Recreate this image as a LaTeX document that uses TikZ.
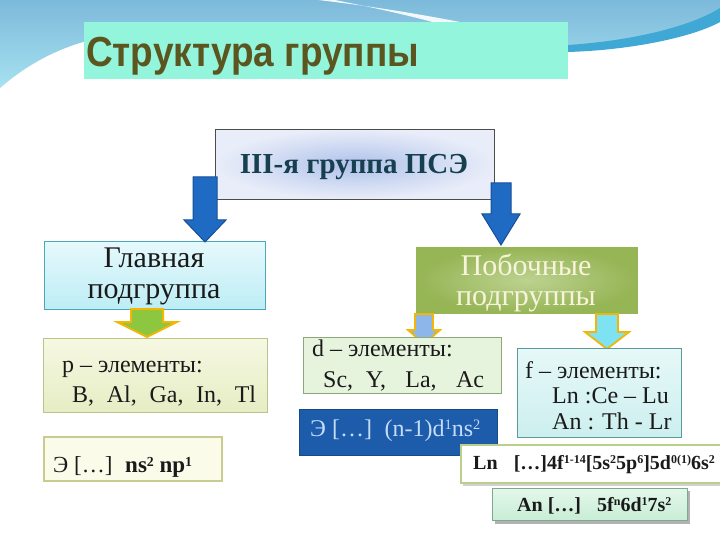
\documentclass[tikz,border=0pt]{standalone}
\usepackage{fontspec}
\setmainfont{Liberation Serif}
\newfontfamily\titlefont{Liberation Sans}
\definecolor{titlefill}{HTML}{93F5DB}
\definecolor{titletext}{HTML}{5B5520}
\definecolor{bgblueA}{HTML}{7DB9DA}
\definecolor{bgblueB}{HTML}{A6E2F0}
\definecolor{bgband}{HTML}{3FA8D4}
\definecolor{iiiin}{HTML}{AFC2EA}
\definecolor{iiiout}{HTML}{E9EDF9}
\definecolor{iiitext}{HTML}{163F4F}
\definecolor{arrblue}{HTML}{1F6BC4}
\definecolor{arrblueedge}{HTML}{174F96}
\definecolor{glavA}{HTML}{E6F9FC}
\definecolor{glavB}{HTML}{BDEDF5}
\definecolor{glavedge}{HTML}{4CA8B8}
\definecolor{pobin}{HTML}{BCD290}
\definecolor{pobout}{HTML}{96B555}
\definecolor{pobtext}{HTML}{F8F4DC}
\definecolor{pfillA}{HTML}{F6F8E2}
\definecolor{pfillB}{HTML}{E6EDC4}
\definecolor{pedge}{HTML}{B8C48A}
\definecolor{dfill}{HTML}{E6F4DE}
\definecolor{dedge}{HTML}{8AA878}
\definecolor{pEfill}{HTML}{FBFBEA}
\definecolor{pEedge}{HTML}{C8CC90}
\definecolor{dEfill}{HTML}{1D5CAA}
\definecolor{dEtext}{HTML}{C4DCF8}
\definecolor{ffillA}{HTML}{E6F8F8}
\definecolor{ffillB}{HTML}{CDEFEF}
\definecolor{fedge}{HTML}{5A9A9A}
\definecolor{lnedge}{HTML}{B8D08A}
\definecolor{anfillA}{HTML}{E4F7EA}
\definecolor{anfillB}{HTML}{C8EDD6}
\definecolor{anedge}{HTML}{7AAA90}
\definecolor{arrgreen}{HTML}{8DC63F}
\definecolor{arrorange}{HTML}{F2B705}
\definecolor{arrlblue}{HTML}{8DB6EA}
\definecolor{arrcyan}{HTML}{7DE3F2}
\definecolor{txt}{HTML}{1A1A1A}
\newcommand{\dnarrow}[7]{%
  \filldraw[#1] ({#2-#6},#3) -- ({#2+#6},#3) -- ({#2+#6},#4) -- ({#2+#7},#4) -- (#2,#5) -- ({#2-#7},#4) -- ({#2-#6},#4) -- cycle;}
\newcommand{\upidx}[1]{\raisebox{0.55ex}{\scalebox{0.6}{#1}}}
\tikzset{
  boxnode/.style={draw, inner sep=0pt, anchor=north west},
  bigtxt/.style={font=\fontsize{30}{31}\selectfont, inner sep=0pt, anchor=base},
  midtxt/.style={font=\fontsize{24}{25}\selectfont, inner sep=0pt, anchor=base west, text=txt},
  formtxt/.style={font=\fontsize{20}{23}\selectfont\bfseries, inner sep=0pt, anchor=base west, text=txt},
}
\begin{document}
\begin{tikzpicture}[x=1pt,y=-1pt]
\useasboundingbox (0,0) rectangle (720,540);
\fill[white] (0,0) rectangle (720,540);
% background swoosh
\shade[top color=bgblueA, bottom color=bgblueB] (0,0) -- (720,0) -- (720,12) .. controls (690,30) and (630,45) .. (568,48) -- (300,48) -- (90,40) .. controls (60,48) and (30,62) .. (0,88) -- cycle;
\fill[bgband] (720,8) .. controls (690,27) and (630,41) .. (568,45) -- (568,52) .. controls (635,50) and (695,36) .. (720,22) -- cycle;
\fill[white, opacity=0.9] (318,0) .. controls (370,6) and (420,14) .. (470,24) -- (440,24) .. controls (400,13) and (360,5) .. (335,0) -- cycle;
% title
\node[fill=titlefill, inner sep=0pt, minimum width=484pt, minimum height=57pt, anchor=north west] (title) at (84,22) {};
\node[font=\titlefont\bfseries\fontsize{42}{44}\selectfont, text=titletext, inner sep=0pt, anchor=base west] (titletxt) at (86,67) {\scalebox{0.88}[1]{Структура группы}};
% III box
\node[boxnode, draw=black!70, line width=0.6pt, inner color=iiiin, outer color=iiiout, minimum width=279pt, minimum height=70pt] (iii) at (215,129) {};
\node[bigtxt, font=\fontsize{29}{31}\selectfont\bfseries, text=iiitext] (iiitxt) at (354,174) {III-я группа ПСЭ};
% Главная box
\node[boxnode, draw=glavedge, line width=0.6pt, top color=glavA, bottom color=glavB, minimum width=221pt, minimum height=68pt] (glav) at (44,241) {};
\node[bigtxt, text=txt] (glav1) at (154,267) {Главная};
\node[bigtxt, text=txt] (glav2) at (154,298) {подгруппа};
% Побочные box
\node[boxnode, draw=pobout, line width=0.6pt, inner color=pobin, outer color=pobout, minimum width=221pt, minimum height=66pt] (pob) at (416,247) {};
\node[bigtxt, text=pobtext] (pob1) at (526,275) {Побочные};
\node[bigtxt, text=pobtext] (pob2) at (526,305) {подгруппы};
% blue arrows
\dnarrow{fill=arrblue, draw=arrblueedge, line width=1pt}{205}{177}{220}{242}{12}{21}
\dnarrow{fill=arrblue, draw=arrblueedge, line width=1pt}{501}{183}{214}{245}{10}{19}
% small arrows
\dnarrow{fill=arrgreen, draw=arrorange, line width=2pt, line join=miter}{147}{309}{322}{337}{16}{30}
\dnarrow{fill=arrlblue, draw=arrorange, line width=1.8pt}{424}{314}{330}{344}{9}{16}
\dnarrow{fill=arrcyan, draw=arrorange, line width=1.8pt}{607}{314}{332}{349}{11}{22}
% p box
\node[boxnode, draw=pedge, line width=0.8pt, top color=pfillA, bottom color=pfillB, minimum width=224pt, minimum height=74pt] (pbox) at (43,338) {};
\node[midtxt] (p1) at (62,372) {p – элементы:};
\node[midtxt] (p2) at (72,402) {B,\; Al,\; Ga,\; In,\; Tl};
% p electron config
\node[boxnode, draw=pEedge, line width=1.5pt, fill=pEfill, minimum width=178pt, minimum height=44pt] (pE) at (43,436) {};
\node[midtxt, font=\fontsize{23}{25}\selectfont] (pEtxt) at (53,472) {Э […]\;\;\textbf{ns\upidx{2} np\upidx{1}}};
% d box
\node[boxnode, draw=dedge, line width=0.6pt, fill=dfill, minimum width=198pt, minimum height=56pt] (dbox) at (303,337) {};
\node[midtxt] (d1) at (312,356) {d – элементы:};
\node[midtxt] (d2) at (323,387) {Sc,\; Y,\;\; La,\;\; Ac};
% d config (dark blue)
\node[boxnode, draw=dEfill!80!black, line width=0.6pt, fill=dEfill, minimum width=198pt, minimum height=46pt] (dE) at (299,409) {};
\node[midtxt, text=dEtext] (dEtxt) at (310,436) {Э […]\; (n-1)d\upidx{1}ns\upidx{2}};
% f box
\node[boxnode, draw=fedge, line width=0.6pt, top color=ffillA, bottom color=ffillB, minimum width=164pt, minimum height=89pt] (fbox) at (517,348) {};
\node[midtxt] (f1) at (525,378) {f – элементы:};
\node[midtxt] (f2) at (552,403) {Ln :Ce – Lu};
\node[midtxt] (f3) at (552,429) {An : Th - Lr};
% Ln config
\fill[black, opacity=0.18] (463,447) rectangle (722,486);
\node[boxnode, draw=lnedge, line width=1.5pt, fill=white, minimum width=260pt, minimum height=38pt] (ln) at (460,444) {};
\node[formtxt] (lntxt) at (473,469) {Ln\;\; […]4f\upidx{1-14}[5s\upidx{2}5p\upidx{6}]5d\upidx{0(1)}6s\upidx{2}};
% An config
\fill[black, opacity=0.3] (495,491) rectangle (690,524);
\node[boxnode, draw=anedge, line width=0.8pt, top color=anfillA, bottom color=anfillB, minimum width=195pt, minimum height=32pt] (an) at (492,488) {};
\node[formtxt] (antxt) at (517,511) {An […]\;\; 5f\upidx{n}6d\upidx{1}7s\upidx{2}};
\end{tikzpicture}
\end{document}
